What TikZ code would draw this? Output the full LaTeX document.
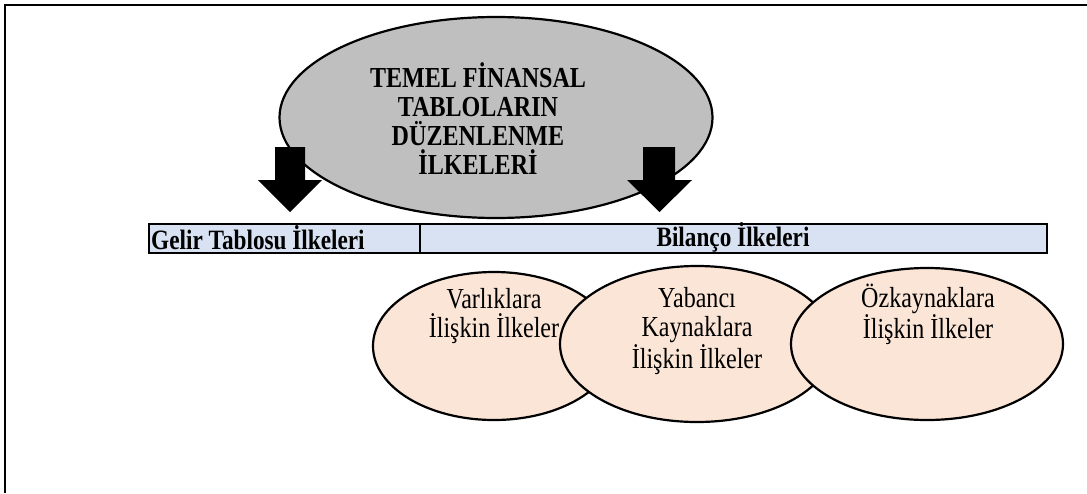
\documentclass[tikz,border=0pt]{standalone}
\usepackage{fontspec}
\usepackage{graphicx}
\setmainfont{Liberation Serif}
\usetikzlibrary{shapes.geometric}
\definecolor{titlegrey}{RGB}{191,191,191}
\definecolor{rowblue}{RGB}{217,226,243}
\definecolor{peach}{RGB}{251,229,214}
% condensed setting of a line of text
\newcommand\cond[1]{\scalebox{0.83}[1]{#1}}
\begin{document}
\begin{tikzpicture}[x=1pt,y=-1pt,
  oval/.style={ellipse, draw=black, line width=2.2pt, inner sep=0pt},
  bigtext/.style={font=\fontsize{29}{29}\selectfont\bfseries, align=center, inner sep=0pt},
  ovaltext/.style={font=\fontsize{29}{29}\selectfont, align=center, inner sep=0pt},
  rowtext/.style={font=\fontsize{28}{28}\selectfont\bfseries, inner sep=0pt},
  cell/.style={draw=black, line width=2.2pt, fill=rowblue, inner sep=0pt, anchor=north west},
  blockarrow/.style={fill=black}
]
\useasboundingbox (0,0) rectangle (1087,493);
% page frame (top and left edges)
\draw[line width=2pt] (5,493) -- (5,5) -- (1087,5);

% central title oval
\node[oval, fill=titlegrey, minimum width=433, minimum height=201] (title) at (496,117.5) {};
\node[bigtext] (titletext) at (478,118.5) {\cond{TEMEL FİNANSAL}\\\cond{TABLOLARIN}\\\cond{DÜZENLENME}\\\cond{İLKELERİ}};

% block arrows pointing down to the two groups
\fill[blockarrow] (275,147) -- (305,147) -- (305,180) -- (322,180) -- (290,212) -- (258,180) -- (275,180) -- cycle;
\fill[blockarrow] (643,147) -- (675,147) -- (675,180) -- (692,180) -- (659.5,212) -- (627,180) -- (643,180) -- cycle;

% header row
\node[cell, minimum width=271, minimum height=29] (gelir) at (148,223) {};
\node[cell, minimum width=627, minimum height=29] (bilanco) at (419,223) {};
\node[rowtext, anchor=west] (gelirtext) at (151,237.5) {\cond{Gelir Tablosu İlkeleri}};
\node[rowtext] (bilancotext) at (733,237.5) {\cond{Bilanço İlkeleri}};

% balance sheet principle ovals
\node[oval, fill=peach, minimum width=242, minimum height=148] (varlik) at (494,346) {};
\node[oval, fill=peach, minimum width=274, minimum height=156] (yabanci) at (697,344) {};
\node[oval, fill=peach, minimum width=272, minimum height=152] (ozkaynak) at (927,344) {};
\node[ovaltext] (varliktext) at (494,316.5) {\cond{Varlıklara}\\\cond{İlişkin İlkeler}};
\node[ovaltext] (yabancitext) at (697,331) {\cond{Yabancı}\\\cond{Kaynaklara}\\\cond{İlişkin İlkeler}};
\node[ovaltext] (ozkaynaktext) at (928,314) {\cond{Özkaynaklara}\\\cond{İlişkin İlkeler}};
\end{tikzpicture}
\end{document}
